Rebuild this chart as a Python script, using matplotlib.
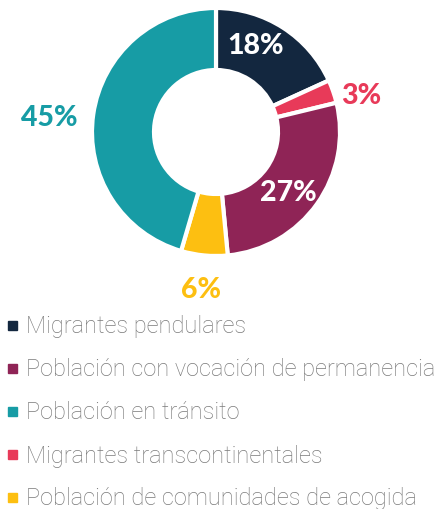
import matplotlib
matplotlib.use("Agg")
import matplotlib.pyplot as plt
from matplotlib.patches import Rectangle
import numpy as np

# Data (clockwise from top)
slice_labels = ["Migrantes pendulares", "Migrantes transcontinentales",
                "Población con vocación de permanencia",
                "Población de comunidades de acogida", "Población en tránsito"]
slice_values = [18, 3, 27, 6, 45]
slice_colors = ["#13273f", "#e83a59", "#8f2456", "#fdbf11", "#179ca5"]
label_colors = ["white", "#e83a59", "white", "#fdbf11", "#179ca5"]

legend_labels = ["Migrantes pendulares", "Población con vocación de permanencia",
                 "Población en tránsito", "Migrantes transcontinentales",
                 "Población de comunidades de acogida"]
legend_colors = ["#13273f", "#8f2456", "#179ca5", "#e83a59", "#fdbf11"]

W, H = 436, 510
fig = plt.figure(figsize=(W / 100, H / 100), dpi=100)
cx, cy, R = 216, 133, 124
ax = fig.add_axes([(cx - R) / W, (H - cy - R) / H, 2 * R / W, 2 * R / H])
wedges, _ = ax.pie(slice_values, colors=slice_colors, startangle=90, counterclock=False,
                   radius=1, wedgeprops=dict(width=0.5, edgecolor="white", linewidth=3))
ax.set_xlim(-1, 1)
ax.set_ylim(-1, 1)
ax.set_aspect("equal")
ax.axis("off")

# label placement (radius, angle offset in degrees)
place = [(0.77, 8), (1.21, -5), (0.76, -4), (1.27, 0), (1.35, 3)]
for w, v, c, (r, da) in zip(wedges, slice_values, label_colors, place):
    ang = np.deg2rad((w.theta1 + w.theta2) / 2 + da)
    ax.text(r * np.cos(ang), r * np.sin(ang), f"{v}%", ha="center", va="center",
            color=c, fontsize=20.5, fontweight="black", family="Lato", clip_on=False)

# legend
y0, dy = 326, 43
for i, (lab, col) in enumerate(zip(legend_labels, legend_colors)):
    y = y0 + i * dy
    fig.patches.append(Rectangle((8 / W, 1 - (y + 4.5) / H), 9 / W, 9 / H,
                                 transform=fig.transFigure, color=col))
    fig.text(26 / W, 1 - (y + 1) / H, lab, ha="left", va="center", fontsize=17,
             color="#7a7a7a", family="Roboto", fontweight="light")

fig.savefig("out.png", dpi=100)
